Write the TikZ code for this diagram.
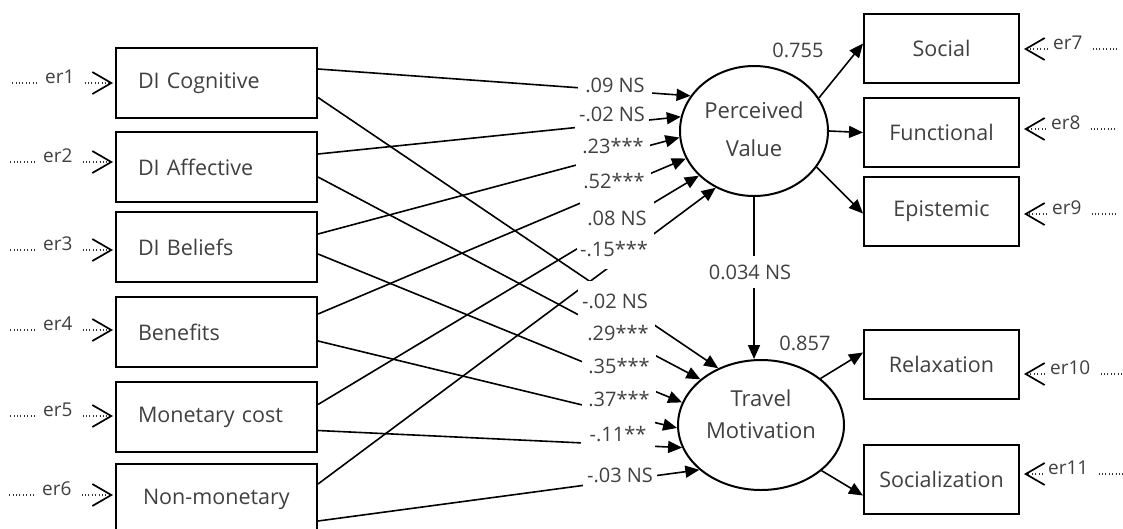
\documentclass[tikz,border=0pt]{standalone}
\usepackage{fontspec}
\setmainfont{Open Sans}
\usetikzlibrary{arrows.meta,shapes.geometric,calc}
\definecolor{txt}{HTML}{404040}
\begin{document}
\begin{tikzpicture}[x=1pt,y=-1pt,
  lbox/.style={draw, line width=2pt, minimum width=201pt, minimum height=70pt,
    text width=157pt, inner xsep=22pt, align=left, anchor=north west,
    font=\fontsize{21.5}{26}\selectfont, text=txt},
  rbox/.style={draw, line width=2pt, minimum width=155pt, minimum height=69pt,
    align=center, anchor=north west, font=\fontsize{21.5}{26}\selectfont, text=txt},
  lat/.style={ellipse, draw, line width=2pt, inner sep=0pt},
  lattxt/.style={align=center, text=txt, inner sep=0pt},
  pth/.style={line width=1.6pt, -{Triangle[length=14pt,width=12pt]}},
  coef/.style={fill=white, font=\fontsize{20}{24}\selectfont, text=txt,
    minimum width=74pt, minimum height=40pt, inner sep=0pt},
  load/.style={font=\fontsize{20}{24}\selectfont, text=txt, inner sep=0pt},
  ertxt/.style={font=\fontsize{19}{22}\selectfont, text=txt, anchor=base west, inner sep=0pt},
  dots/.style={line width=1.2pt, draw=black!80, dash pattern=on 1pt off 2.4pt},
  erarrow/.style={dots, -{Straight Barb[length=19pt,width=22pt,line width=1.7pt,color=black]}}
]
\useasboundingbox (0,0) rectangle (1123,528);

% observed variables (left)
\node[lbox] (b1) at (115,47) {DI Cognitive};
\node[lbox] (b2) at (115,131) {DI Affective};
\node[lbox] (b3) at (115,211) {DI Beliefs};
\node[lbox] (b4) at (115,296) {Benefits};
\node[lbox] (b5) at (115,381) {Monetary cost};
\node[lbox] (b6) at (115,463) {\hspace*{5pt}Non-monetary};

% indicators (right)
\node[rbox] (s1) at (863,13) {Social};
\node[rbox] (f1) at (863,97) {Functional};
\node[rbox] (ep) at (863,176) {Epistemic};
\node[rbox] (rx) at (863,329) {Relaxation};
\node[rbox] (so) at (863,444) {Socialization};

% latent variables
\node[lat, minimum width=148pt, minimum height=130pt] (pv) at (754,131) {};
\node[lattxt, font=\fontsize{22}{38}\selectfont] (pvt) at (754,129) {Perceived\\Value};
\node[lat, minimum width=166pt, minimum height=130pt] (tm) at (761,425) {};
\node[lattxt, font=\fontsize{22}{32}\selectfont] (tmt) at (761,414) {Travel\\Motivation};

% structural paths to Perceived Value
\draw[pth] ([yshift=14pt]b1.east) -- (pv.151);
\draw[pth] ([yshift=13pt]b2.east) -- (pv.169);
\draw[pth] ([yshift=13pt]b3.east) -- (pv.185);
\draw[pth] ([yshift=18pt]b4.east) -- (pv.202);
\draw[pth] ([yshift=12.5pt]b5.east) -- (pv.219);
\draw[pth] ([yshift=15pt]b6.east) -- (pv.236);
% structural paths to Travel Motivation
\draw[pth] ([yshift=-14.5pt]b1.east) -- (tm.127);
\draw[pth] ([yshift=-10pt]b2.east) -- (tm.143);
\draw[pth] ([yshift=-7pt]b3.east) -- (tm.164);
\draw[pth] ([yshift=-9pt]b4.east) -- (tm.182);
\draw[pth] ([yshift=-13.5pt]b5.east) -- (tm.196);
\draw[pth] ([yshift=-22pt]b6.east) -- (tm.216);

% coefficients
\node[coef] (c1) at (615,85) {.09 NS};
\node[coef] (c2) at (612,114) {-.02 NS};
\node[coef] (c3) at (613,146) {.23***};
\node[coef] (c4) at (614,181) {.52***};
\node[coef] (c5) at (617,218) {.08 NS};
\node[coef] (c6) at (614,249) {-.15***};
\node[coef] (c7) at (615,301) {-.02 NS};
\node[coef] (c8) at (618,333) {.29***};
\node[coef] (c9) at (619,366) {.35***};
\node[coef] (c10) at (619,399) {.37***};
\node[coef] (c11) at (618,434) {-.11**};
\node[coef] (c12) at (620,475) {-.03 NS};

% PV -> TM
\draw[pth] (pv.south) -- (pv.south |- tm.north);
\node[load, fill=white, minimum height=32pt, inner xsep=3pt] (c13) at (750,272) {0.034 NS};

% measurement paths
\draw[pth] (pv.27) -- ([yshift=5pt]s1.west);
\draw[pth] (pv.east) -- (f1.west);
\draw[pth] (pv.-30) -- ([yshift=-2pt]ep.west);
\draw[pth] (tm.38) -- ([yshift=12pt]rx.west);
\draw[pth] (tm.-37) -- ([yshift=-16pt]so.west);
\node[load] (l1) at (798,50) {0.755};
\node[load] (l2) at (805,343) {0.857};

% error terms (left)
\foreach \i/\x/\y in {1/45/83, 2/43/162, 3/43/250, 4/43/330, 5/43/416, 6/42/495}{
  \node[ertxt] (e\i) at (\x,\y) {er\i};
  \draw[dots] ([xshift=-8pt]e\i.base west) -- ++(-26,0);
  \draw[erarrow] ([xshift=10pt]e\i.base east) -- ($(b\i.west |- e\i.base)+(-2,0)$);
}
% error terms (right)
\foreach \i/\x/\y/\b in {7/1053/49/s1, 8/1051/129/f1, 9/1052/214/ep, 10/1050/374/rx, 11/1048/474/so}{
  \node[ertxt] (e\i) at (\x,\y) {er\i};
  \draw[dots] ([xshift=10pt]e\i.base east) -- ++(27,0);
  \draw[erarrow] ([xshift=-5pt]e\i.base west) -- ($(\b.east |- e\i.base)+(4,0)$);
}
\end{tikzpicture}
\end{document}
